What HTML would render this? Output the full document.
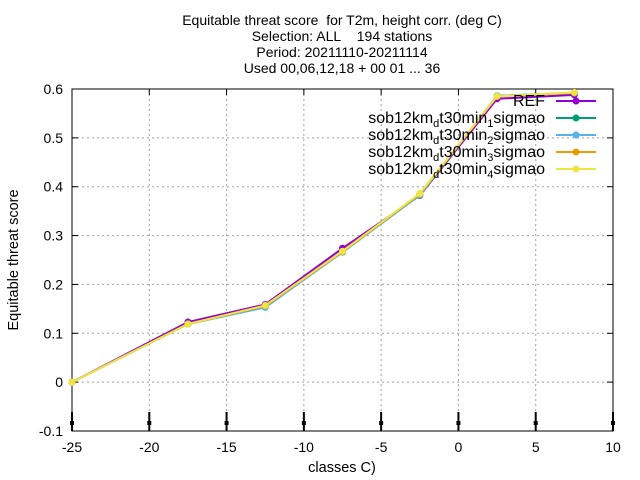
<!DOCTYPE html>
<html><head><meta charset="utf-8"><style>
body{margin:0;background:#fff}
svg{display:block;font-family:"Liberation Sans",sans-serif}
</style></head><body>
<svg id="c" width="640" height="480" xmlns="http://www.w3.org/2000/svg">
<g font-size="14" text-anchor="middle">
<text x="342" y="25">Equitable threat score&#160; for T2m, height corr. (deg C)</text>
<text x="342" y="41">Selection: ALL&#160;&#160;&#160; 194 stations</text>
<text x="342" y="57">Period: 20211110-20211114</text>
<text x="342" y="73">Used 00,06,12,18 + 00 01 ... 36</text>
</g>
<text font-size="14.5" text-anchor="middle" transform="translate(18,260) rotate(-90)">Equitable threat score</text>
<text font-size="14.5" text-anchor="middle" x="342" y="472">classes C)</text>
<g id="grid"></g><g id="axes"></g><g id="series"></g><g id="legend"></g>
</svg>
<script>
const xCats=[-25,-17.5,-12.5,-7.5,-2.5,2.5,7.5];
const seriesNames=["REF","sob12km_d_t30min_1_sigmao","sob12km_d_t30min_2_sigmao","sob12km_d_t30min_3_sigmao","sob12km_d_t30min_4_sigmao"];
const seriesColors=["#9400d3","#009e73","#56b4e9","#e69f00","#f0e442"];
const ref=[0,0.123,0.159,0.274,0.382,0.580,0.588];
const s1=[0,0.119,0.154,0.266,0.383,0.586,0.592];
const s2=[0,0.119,0.153,0.266,0.383,0.586,0.592];
const s3=[0,0.119,0.156,0.267,0.385,0.585,0.592];
const s4=[0,0.119,0.157,0.268,0.386,0.585,0.593];
const allSeries=[ref,s1,s2,s3,s4];
const xTicks=[-25,-20,-15,-10,-5,0,5,10];
const yTicks=[-0.1,0,0.1,0.2,0.3,0.4,0.5,0.6];
const L=72,R=613,T=89,B=431;
const X=v=>L+(v+25)/35*(R-L);
const Y=v=>B-(v+0.1)/0.7*(B-T);
const NS="http://www.w3.org/2000/svg";
function mk(p,tag,a){const e=document.createElementNS(NS,tag);for(const k in a)e.setAttribute(k,a[k]);p.appendChild(e);return e;}
const grid=document.getElementById('grid'),axes=document.getElementById('axes'),ser=document.getElementById('series'),leg=document.getElementById('legend');
xTicks.forEach(t=>{const x=X(t);
 if(t>-25&&t<10){const g=mk(grid,'line',{x1:x,x2:x,y1:T,y2:B,stroke:'#a0a0a0','stroke-dasharray':'2,3'});
 
 }
 mk(axes,'line',{x1:x,x2:x,y1:T,y2:T+6,stroke:'#000'});
 const tx=mk(axes,'text',{x:x,y:B+21,'font-size':14,'text-anchor':'middle'});tx.textContent=t;
 
 
 const eb=mk(axes,'line',{x1:x,x2:x,y1:B-19,y2:B,stroke:'#000','stroke-width':2});
 
 
 mk(axes,'rect',{x:x-2,y:B-10,width:4,height:4,fill:'#000'});
});
yTicks.forEach(t=>{const y=Y(t);
 if(t>-0.1&&t<0.6){const g=mk(grid,'line',{x1:L,x2:R,y1:y,y2:y,stroke:'#a0a0a0','stroke-dasharray':'2,3'});
 
 }
 mk(axes,'line',{x1:L,x2:L+6,y1:y,y2:y,stroke:'#000'});
 mk(axes,'line',{x1:R-6,x2:R,y1:y,y2:y,stroke:'#000'});
 const tx=mk(axes,'text',{x:L-9,y:y+5,'font-size':14,'text-anchor':'end'});tx.textContent=(Math.round(t*10)/10).toString();
 
 
});
mk(axes,'rect',{x:L,y:T,width:R-L,height:B-T,fill:'none',stroke:'#000'});
allSeries.forEach((d,i)=>{const c=seriesColors[i];
 const pl=mk(ser,'polyline',{points:d.map((v,j)=>X(xCats[j])+','+Y(v)).join(' '),fill:'none',stroke:c,'stroke-width':2});
 
 
 d.forEach((v,j)=>{const p=mk(ser,'circle',{cx:X(xCats[j]),cy:Y(v),r:3.5,fill:c});
  
  });
 const ly=101+i*17;
 const e=mk(leg,'g',{});
 
 
 mk(e,'line',{x1:556,x2:596,y1:ly,y2:ly,stroke:c,'stroke-width':2});
 mk(e,'circle',{cx:576,cy:ly,r:3.5,fill:c});
 const t=mk(e,'text',{x:545,y:ly+5,'font-size':16,'text-anchor':'end'});
 if(i==0)t.textContent='REF';
 else{t.appendChild(document.createTextNode('sob12km'));
  const a=mk(t,'tspan',{'font-size':11,dy:4});a.textContent='d';
  const b=mk(t,'tspan',{dy:-4});b.textContent='t30min';
  const c2=mk(t,'tspan',{'font-size':11,dy:4});c2.textContent=String(i);
  const d2=mk(t,'tspan',{dy:-4});d2.textContent='sigmao';}
});
</script>
</body></html>
